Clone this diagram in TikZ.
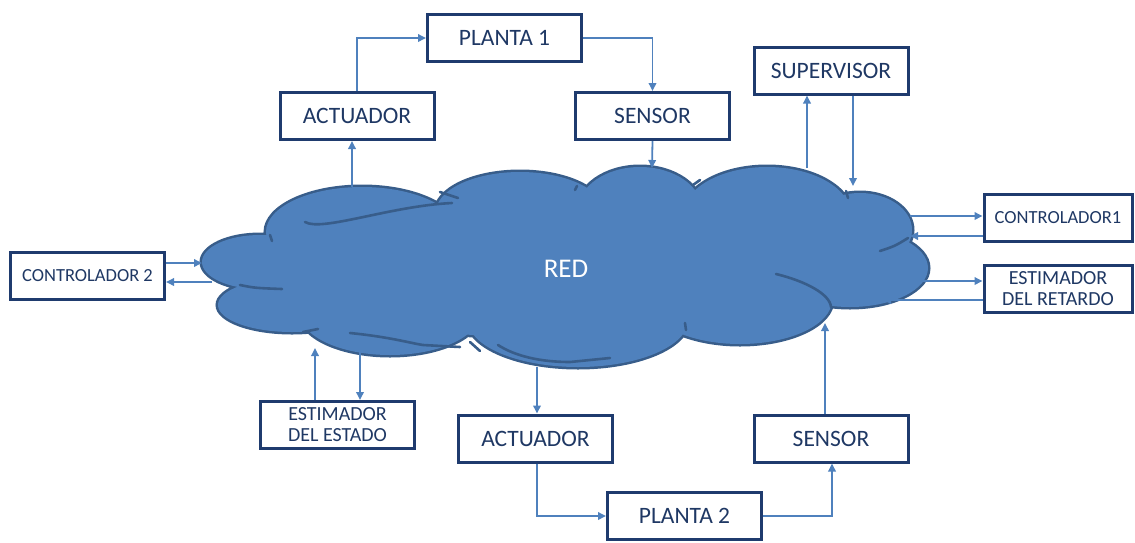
\documentclass[tikz,border=0pt]{standalone}
\usepackage{fontspec}
\setmainfont{Carlito}
\usetikzlibrary{arrows.meta}
\definecolor{boxline}{HTML}{1F3B6E}
\definecolor{boxtext}{HTML}{1F3864}
\definecolor{linkblue}{HTML}{4F81BD}
\definecolor{cloudfill}{HTML}{4F81BD}
\definecolor{cloudline}{HTML}{385D8A}
\tikzset{
  unit/.style={draw=boxline, line width=3pt, fill=white, text=boxtext,
    minimum width=154pt, minimum height=47pt, inner sep=0pt, align=center},
  bigtxt/.style={font=\fontsize{23.5}{25}\selectfont},
  smalltxt/.style={font=\fontsize{18.5}{20}\selectfont},
  twoline/.style={font=\fontsize{20}{21}\selectfont},
  link/.style={draw=linkblue, line width=1.8pt,
    -{Triangle[length=8pt,width=7.5pt]}},
  crease/.style={draw=cloudline, line width=2.6pt, line cap=round}
}
\begin{document}
\begin{tikzpicture}[x=1pt,y=-1pt]
\useasboundingbox (0,0) rectangle (1135,542);

% ---- network cloud: stroked lobes underneath, filled lobes on top ----
\def\lobes{%
  (260,262) ellipse [x radius=58, y radius=27]
  (292,305) ellipse [x radius=74, y radius=27]
  (362,232) ellipse [x radius=96, y radius=45]
  (520,212) ellipse [x radius=84, y radius=40]
  (640,210) ellipse [x radius=62, y radius=43]
  (767,215) ellipse [x radius=84, y radius=48]
  (860,230) ellipse [x radius=52, y radius=37]
  (850,268) ellipse [x radius=78, y radius=39]
  (740,300) ellipse [x radius=92, y radius=44]
  (578,320) ellipse [x radius=110, y radius=47]
  (390,313) ellipse [x radius=90, y radius=42]
  (560,268) ellipse [x radius=300, y radius=70]}
\draw[cloudline, line width=5pt] \lobes;
\fill[cloudfill] \lobes;

% folds inside the cloud
\draw[crease] (305,222) .. controls (322,232) and (390,206) .. (452,203);
\draw[crease] (240,285) .. controls (255,288) .. (282,289);
\draw[crease] (303,332) -- (318,329);
\draw[crease] (350,333) .. controls (390,337) and (410,343) .. (423,345) -- (460,347);
\draw[crease] (470,342) -- (480,351);
\draw[crease] (498,345) .. controls (515,356) and (540,362) .. (570,362) -- (610,358);
\draw[crease] (776,274) .. controls (805,281) and (830,294) .. (831,307);
\draw[crease] (880,251) .. controls (895,246) .. (908,238);
\draw[crease] (686,330) -- (685,323);
\draw[crease] (693,185) -- (700,180);
\draw[crease] (846,191) -- (848,198);
\draw[crease] (440,192) -- (458,198);
\draw[crease] (270,235) -- (272,241);
\draw[crease] (577,186) -- (575,190);

\node[text=white, font=\fontsize{27}{29}\selectfont] (red) at (566,269) {RED};

% ---- boxes ----
\node[unit, bigtxt] (plantaA) at (504.5,38) {PLANTA 1};
\node[unit, bigtxt] (actA)    at (357,116) {ACTUADOR};
\node[unit, bigtxt] (senA)    at (652.5,116) {SENSOR};
\node[unit, bigtxt] (sup)     at (831,70.5) {SUPERVISOR};
\node[unit, smalltxt, minimum width=148pt] (ctlA) at (1058,218) {CONTROLADOR1};
\node[unit, twoline, minimum width=148pt]  (estR) at (1058,289) {ESTIMADOR\\DEL RETARDO};
\node[unit, smalltxt] (ctlB)  at (87.5,275.5) {CONTROLADOR 2};
\node[unit, twoline]  (estE)  at (337.5,425) {ESTIMADOR\\DEL ESTADO};
\node[unit, bigtxt] (actB)    at (535.5,438.5) {ACTUADOR};
\node[unit, bigtxt] (senB)    at (831,438.5) {SENSOR};
\node[unit, bigtxt] (plantaB) at (684.5,516) {PLANTA 2};

% ---- attachment points on the cloud ----
\coordinate (kActA)  at (352,187);
\coordinate (kSenA)  at (652,168);
\coordinate (kSupUp) at (807,168);
\coordinate (kSupDn) at (853,186);
\coordinate (kCtlAo) at (910,216);
\coordinate (kCtlAi) at (910,236);
\coordinate (kEstRo) at (920,281);
\coordinate (kEstRi) at (883,300);
\coordinate (kCtlBi) at (202,263);
\coordinate (kCtlBo) at (212,282);
\coordinate (kEstEi) at (315,348);
\coordinate (kEstEo) at (360,352);
\coordinate (kActB)  at (537,367);
\coordinate (kSenB)  at (825,323);

% ---- loop 1 ----
\draw[link] (kActA) -- (kActA |- actA.south);
\draw[link] (actA.north) |- (plantaA.west);
\draw[link] (plantaA.east) -| (senA.north);
\draw[link] (senA.south) -- (kSenA);

% ---- supervisor ----
\draw[link] (kSupUp) -- (kSupUp |- sup.south);
\draw[link] (kSupDn |- sup.south) -- (kSupDn);

% ---- controller 1 and delay estimator ----
\draw[link] (kCtlAo) -- (kCtlAo -| ctlA.west);
\draw[link] (kCtlAi -| ctlA.west) -- (kCtlAi);
\draw[link] (kEstRo) -- (kEstRo -| estR.west);
\draw[link] (kEstRi -| estR.west) -- (kEstRi);

% ---- controller 2 ----
\draw[link] (kCtlBi -| ctlB.east) -- (kCtlBi);
\draw[link] (kCtlBo) -- (kCtlBo -| ctlB.east);

% ---- state estimator ----
\draw[link] (kEstEi |- estE.north) -- (kEstEi);
\draw[link] (kEstEo) -- (kEstEo |- estE.north);

% ---- loop 2 ----
\draw[link] (kActB) -- (kActB |- actB.north);
\draw[link] ([xshift=1.5pt]actB.south) |- (plantaB.west);
\draw[link] (plantaB.east) -| ([xshift=1pt]senB.south);
\draw[link] (kSenB |- senB.north) -- (kSenB);
\end{tikzpicture}
\end{document}
